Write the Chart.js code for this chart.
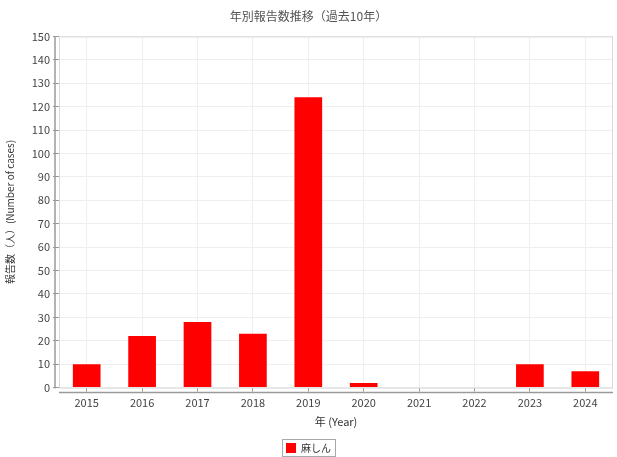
<!DOCTYPE html>
<html>
<head>
<meta charset="utf-8">
<script src="https://cdn.jsdelivr.net/npm/chart.js@4"></script>
<style>
  html, body { margin: 0; padding: 0; background: #fff; }
  #wrap { width: 617px; height: 457px; }
</style>
</head>
<body>
<div id="wrap"><canvas id="myChart" width="617" height="457"></canvas></div>
<script>
    const years = ['2015', '2016', '2017', '2018', '2019', '2020', '2021', '2022', '2023', '2024'];
    const cases = [10, 22, 28, 23, 124, 2, 0, 0, 10, 7];
    const seriesName = '麻しん';
    const yTicks = [0, 150, 10];

    const font = "'Noto Sans CJK JP', 'Noto Sans', sans-serif";

    // plot frame + offset axis lines, like the original
    const frame = {
        id: 'frame',
        beforeDatasetsDraw(chart) {
            const {ctx, chartArea: {left, right, top, bottom}} = chart;
            ctx.save();
            ctx.strokeStyle = '#d8d8d8';
            ctx.lineWidth = 1;
            ctx.strokeRect(left + 0.5, top + 0.5, right - left - 1, bottom - top);
            ctx.restore();
        },
        afterDraw(chart) {
            const {ctx, chartArea: {left, right, top, bottom}} = chart;
            ctx.save();
            ctx.strokeStyle = '#9a9a9a';
            ctx.lineWidth = 1.5;
            ctx.beginPath();
            ctx.moveTo(left - 4, top);
            ctx.lineTo(left - 4, bottom + 1);
            ctx.moveTo(left, bottom + 5);
            ctx.lineTo(right, bottom + 5);
            ctx.stroke();

            // border round the legend item
            const lg = chart.legend;
            if (lg && lg.legendHitBoxes && lg.legendHitBoxes.length) {
                const b = lg.legendHitBoxes[0];
                ctx.lineWidth = 1;
                ctx.strokeStyle = '#a8a8a8';
                ctx.strokeRect(Math.round(b.left) - 3.5, Math.round(b.top) - 3.5, b.width + 8, b.height + 7);
            }
            ctx.restore();
        }
    };

    const config = {
      type: 'bar',
      data: {
        labels: years,
        datasets: [{
          label: seriesName,
          data: cases,
          backgroundColor: 'rgb(255, 0, 0)',
          borderColor: 'rgb(255, 0, 0)',
          borderWidth: 0,
          barPercentage: 0.5,
          categoryPercentage: 1.0
        }]
      },
      options: {
        responsive: false,
        animation: false,
        layout: { padding: { left: 4, right: 4, top: 4, bottom: -6 } },
        plugins: {
          title: {
            display: true,
            text: '年別報告数推移（過去10年）',
            color: '#555',
            font: { family: font, size: 12, weight: 'normal' },
            padding: { top: 5, bottom: 13 }
          },
          legend: {
            position: 'bottom',
            labels: {
              color: '#333',
              font: { family: font, size: 10 },
              boxWidth: 10,
              boxHeight: 10,
              padding: 0
            }
          },
          tooltip: { enabled: false }
        },
        scales: {
          x: {
            grid: {
              offset: false,
              color: '#efefef',
              tickColor: '#999',
              tickLength: 4,
              drawTicks: true
            },
            border: { display: false },
            ticks: { color: '#444', font: { family: font, size: 11 }, padding: 5 },
            title: {
              display: true,
              text: '年 (Year)',
              color: '#333',
              font: { family: font, size: 11 },
              padding: { top: 0, bottom: 15 }
            }
          },
          y: {
            min: yTicks[0],
            max: yTicks[1],
            afterFit(scale) { scale.width = 55; },
            grid: {
              color: '#efefef',
              tickColor: '#999',
              tickLength: 6
            },
            border: { display: false },
            ticks: {
              stepSize: yTicks[2],
              color: '#444',
              font: { family: font, size: 11 },
              padding: 3
            },
            title: {
              display: true,
              text: '報告数（人）(Number of cases)',
              color: '#333',
              font: { family: font, size: 10 },
              padding: { top: 0, bottom: 4 }
            }
          }
        }
      },
      plugins: [frame]
    };

    const myChart = new Chart(document.getElementById('myChart'), config);
</script>
</body>
</html>
